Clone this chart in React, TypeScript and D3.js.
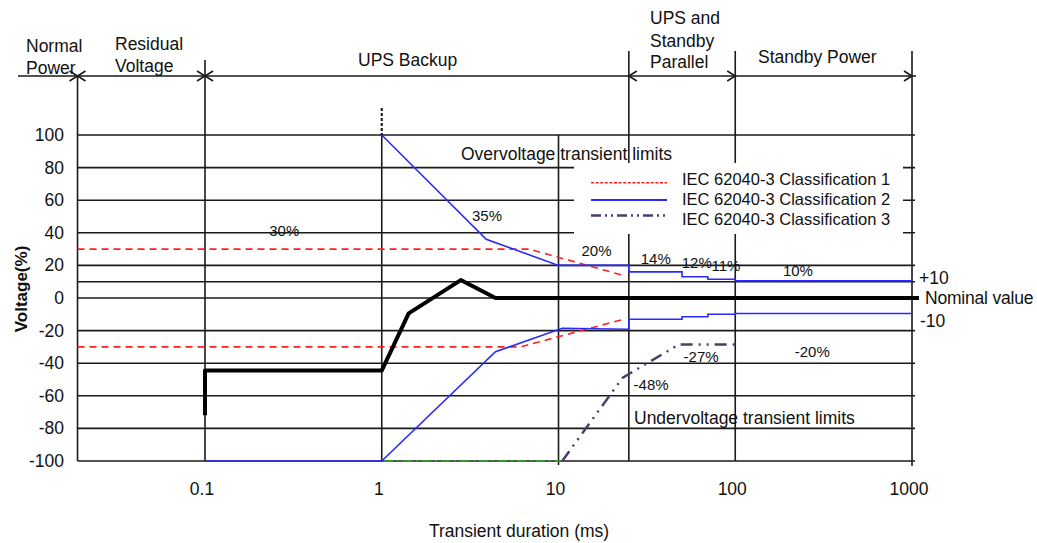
import * as d3 from "d3";

// ---- data ----
const xTicks = [0.1, 1, 10, 100, 1000];
const xTickLabels = ["0.1", "1", "10", "100", "1000"];
const yTicks = [100, 80, 60, 40, 20, 0, -20, -40, -60, -80, -100];
const extraGrid = [10];

// phase boundaries (ms) and names
const phaseEdges = [0.019, 0.1, 25, 100, 1000];
const phaseNames = [
  ["Normal", "Power"],
  ["Residual", "Voltage"],
  ["UPS Backup"],
  ["UPS and", "Standby", "Parallel"],
  ["Standby Power"],
];

// IEC 62040-3 classification 1 (red dashed)
const class1UpperT = [0.019, 6.8, 23];
const class1UpperV = [30, 30, 14];
const class1LowerT = [0.019, 6.1, 23.4];
const class1LowerV = [-30, -30, -13];

// classification 2 (blue)
const class2UpperT = [1, 1, 3.9, 10, 25, 25, 50, 50, 70, 70, 100, 100, 1000];
const class2UpperV = [100, 100, 36, 20, 20, 16, 16, 13, 13, 11.5, 11.5, 10.5, 10.5];
const class2LowerT = [0.1, 1, 4.4, 10.5, 25, 25, 50, 50, 70, 70, 100, 100, 1000];
const class2LowerV = [-100, -100, -33, -18.6, -19.2, -13, -13, -11.5, -11.5, -10, -10, -9.5, -9.5];

// classification 3 (dash-dot-dot)
const class3LowerT = [10.5, 23, 48, 100];
const class3LowerV = [-100, -49, -28.5, -28.5];
const class3FloorT = [1.03, 10.3];
const class3FloorV = [-100, -100];

// measured output voltage (thick black)
const outputT = [0.1, 0.1, 1, 1.42, 2.8, 4.4, 1000];
const outputV = [-72, -44.5, -44.5, -9.4, 11, 0, 0];

const legendNames = [
  "IEC 62040-3 Classification 1",
  "IEC 62040-3 Classification 2",
  "IEC 62040-3 Classification 3",
];

const pctLabels = ["30%", "35%", "20%", "14%", "12%", "11%", "10%", "-27%", "-20%", "-48%"];
const pctAtT = [0.231, 3.24, 13.5, 29.2, 49.8, 73.3, 186, 51, 217, 26.6];
const pctAtV = [38, 47.2, 25.8, 20.9, 18.7, 16.6, 13.2, -39.3, -36.2, -56.4];

const FONT = "'Liberation Sans', Arial, sans-serif";
const GRID = "#1a1a1a";

export default function App() {
  const W = 1037;
  const H = 543;

  const x = d3.scaleLog().domain([0.1, 1000]).range([205, 912]);
  const y = d3.scaleLinear().domain([-100, 100]).range([461, 135]);

  const zip = (t: number[], v: number[]) => t.map((ti, i) => [ti, v[i]] as [number, number]);
  const line = d3
    .line<[number, number]>()
    .x((d) => x(d[0]))
    .y((d) => y(d[1]));

  const xLeft = x(phaseEdges[0]);
  const xRight = x(1000);
  const headerY = 76;

  // vertical lines: boundary / decade, top of each
  const verticals = [
    { t: phaseEdges[0], top: headerY, bottom: y(-100) },
    { t: 0.1, top: 60, bottom: y(-100) },
    { t: 1, top: y(100), bottom: y(-100) },
    { t: 10, top: y(100), bottom: y(-100) + 4 },
    { t: 25, top: 51, bottom: y(-100) },
    { t: 100, top: 51, bottom: y(-100) },
    { t: 1000, top: 51, bottom: y(-100) + 5 },
  ];

  // arrow heads along the header line: dir 1 = ">" , -1 = "<"
  const arrows = [
    { t: phaseEdges[0], dir: 1 },
    { t: phaseEdges[0], dir: -1 },
    { t: 0.1, dir: 1 },
    { t: 0.1, dir: -1 },
    { t: 25, dir: -1 },
    { t: 100, dir: 1 },
    { t: 1000, dir: 1 },
  ];

  const headerPos = [
    { x: 26, ys: [52, 74] },
    { x: 115, ys: [50, 72] },
    { x: 358, ys: [66] },
    { x: 650, ys: [24, 47, 68] },
    { x: 758, ys: [63] },
  ];

  const legendStyles = [
    { stroke: "#ff2020", dash: "3,1.6", width: 1.4 },
    { stroke: "#2a2aff", dash: "", width: 1.8 },
    { stroke: "#4b3b6e", dash: "10,4,2,4,2,4", width: 2.4 },
  ];
  const legendLineY = [182.7, 200, 215.5];
  const legendTextY = [185, 205, 224.5];

  return (
    <svg
      width={W}
      height={H}
      style={{ position: "absolute", left: 0, top: 0, background: "#fff" }}
      fontFamily={FONT}
    >
      <rect x={0} y={0} width={W} height={H} fill="#fff" />

      {/* horizontal grid */}
      {[...yTicks, ...extraGrid].map((v) => (
        <line
          key={"g" + v}
          x1={xLeft}
          x2={xRight + 3}
          y1={y(v)}
          y2={y(v)}
          stroke={GRID}
          strokeWidth={1.6}
        />
      ))}

      {/* verticals */}
      {verticals.map((d, i) => (
        <line
          key={"v" + i}
          x1={x(d.t)}
          x2={x(d.t)}
          y1={d.top}
          y2={d.bottom}
          stroke={GRID}
          strokeWidth={1.6}
        />
      ))}
      <line
        x1={x(1)}
        x2={x(1)}
        y1={108}
        y2={y(100)}
        stroke="#111"
        strokeWidth={2}
        strokeDasharray="3,2"
      />

      {/* header line and arrows */}
      <line x1={18} x2={xRight + 4} y1={headerY} y2={headerY} stroke={GRID} strokeWidth={1.6} />
      {arrows.map((a, i) => {
        const px = x(a.t);
        const bx = px - a.dir * 8;
        return (
          <path
            key={"a" + i}
            d={`M${bx},${headerY - 5}L${px},${headerY}L${bx},${headerY + 5}`}
            fill="none"
            stroke={GRID}
            strokeWidth={1.6}
          />
        );
      })}
      {phaseNames.map((lines, i) =>
        lines.map((s, j) => (
          <text key={"p" + i + j} x={headerPos[i].x} y={headerPos[i].ys[j]} fontSize={17.5} fill="#111">
            {s}
          </text>
        ))
      )}

      {/* legend box (white, covers grid) */}
      <rect x={574} y={163} width={329} height={71} fill="#fff" />
      {legendNames.map((s, i) => (
        <g key={"l" + i}>
          <line
            x1={591}
            x2={667}
            y1={legendLineY[i]}
            y2={legendLineY[i]}
            stroke={legendStyles[i].stroke}
            strokeWidth={legendStyles[i].width}
            strokeDasharray={legendStyles[i].dash}
          />
          <text x={682} y={legendTextY[i]} fontSize={16.5} fill="#111">
            {s}
          </text>
        </g>
      ))}

      {/* limit curves */}
      <path d={line(zip(class1UpperT, class1UpperV)) || ""} fill="none" stroke="#ff2020" strokeWidth={1.6} strokeDasharray="7,5" />
      <path d={line(zip(class1LowerT, class1LowerV)) || ""} fill="none" stroke="#ff2020" strokeWidth={1.6} strokeDasharray="7,5" />
      <path d={line(zip(class2UpperT, class2UpperV)) || ""} fill="none" stroke="#2a2aff" strokeWidth={1.6} />
      <path d={line(zip(class2LowerT, class2LowerV)) || ""} fill="none" stroke="#2a2aff" strokeWidth={1.6} />
      <path d={line(zip(class3FloorT, class3FloorV)) || ""} fill="none" stroke="#2e9a2e" strokeWidth={2} strokeDasharray="9,4,2,4" />
      <path d={line(zip(class3LowerT, class3LowerV)) || ""} fill="none" stroke="#4b3b6e" strokeWidth={2.4} strokeDasharray="12,6,2,6,2,6" />

      {/* output voltage */}
      <path d={line(zip(outputT, outputV)) || ""} fill="none" stroke="#000" strokeWidth={4} strokeLinejoin="round" />
      <line x1={xRight} x2={xRight + 7} y1={y(0)} y2={y(0)} stroke="#000" strokeWidth={4} />

      {/* percent labels */}
      {pctLabels.map((s, i) => (
        <text key={"pc" + i} x={x(pctAtT[i])} y={y(pctAtV[i])} fontSize={15} fill="#111">
          {s}
        </text>
      ))}

      <text x={461} y={160} fontSize={17.5} fill="#111">Overvoltage transient limits</text>
      <text x={634} y={424} fontSize={17.5} fill="#111">Undervoltage transient limits</text>

      <text x={919} y={283.5} fontSize={17.5} fill="#111">+10</text>
      <text x={925} y={304} fontSize={17.5} fill="#111" letterSpacing={-0.2}>Nominal value</text>
      <text x={920} y={326.5} fontSize={17.5} fill="#111">-10</text>

      {/* y axis */}
      {yTicks.map((v) => (
        <text key={"yt" + v} x={64} y={y(v) + 6} textAnchor="end" fontSize={17.5} fill="#111">
          {v}
        </text>
      ))}
      <text
        transform="translate(27,289) rotate(-90)"
        textAnchor="middle"
        fontSize={17}
        fontWeight="bold"
        fill="#111"
      >
        Voltage(%)
      </text>

      {/* x axis */}
      {xTicks.map((t, i) => (
        <text key={"xt" + i} x={x(t) - 3} y={495} textAnchor="middle" fontSize={17.5} fill="#111">
          {xTickLabels[i]}
        </text>
      ))}
      <text x={519} y={537} textAnchor="middle" fontSize={17.5} fill="#111">
        Transient duration (ms)
      </text>
    </svg>
  );
}
